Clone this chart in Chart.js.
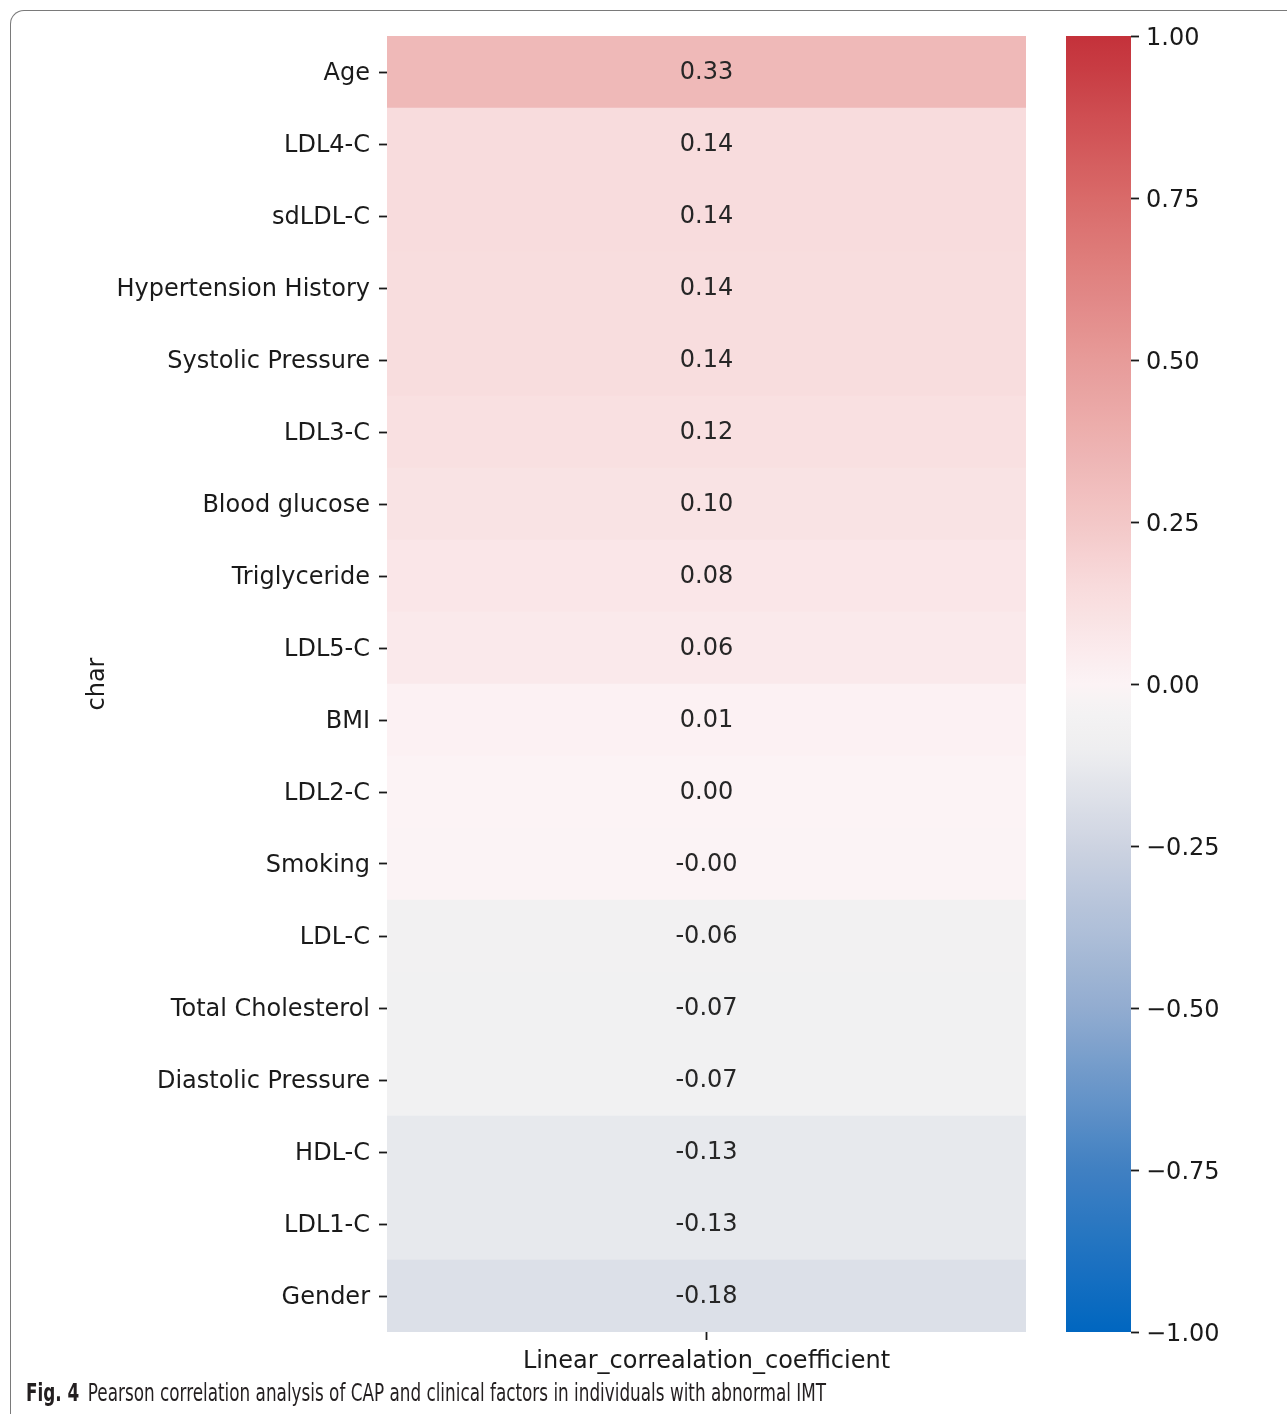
<!DOCTYPE html>
<html>
<head>
<meta charset="utf-8">
<script src="https://cdn.jsdelivr.net/npm/chart.js@4.4.1/dist/chart.umd.min.js"></script>
<style>
  html, body { margin: 0; padding: 0; background: #fff; }
  body { width: 1287px; height: 1414px; position: relative; overflow: hidden; }
  #frame {
    position: absolute; left: 10px; top: 10px; width: 1340px; height: 1460px;
    border-top: 1.5px solid #7a7a7a; border-left: 1.5px solid #7a7a7a;
    border-top-left-radius: 14px; box-sizing: border-box;
  }
  #heat { position: absolute; left: 0; top: 0; width: 1050px; height: 1414px; }
  #bar { position: absolute; left: 1040px; top: 0; width: 247px; height: 1414px; }
  #caption {
    position: absolute; left: 26px; top: 1379px;
    font-family: "Liberation Sans Narrow", "DejaVu Sans Condensed", "Open Sans", sans-serif;
    font-size: 24px; color: #231f20; white-space: nowrap; transform-origin: 0 0;
  }
  #caption b { margin-right: 11px; }
</style>
</head>
<body>
<div id="frame"></div>
<canvas id="heat" width="1050" height="1414"></canvas>
<canvas id="bar" width="247" height="1414"></canvas>
<div id="caption"><b>Fig. 4</b>Pearson correlation analysis of CAP and clinical factors in individuals with abnormal IMT</div>

<script>
// Clinical factors, sorted by correlation with CAP
const factors = [
  'Age', 'LDL4-C', 'sdLDL-C', 'Hypertension History', 'Systolic Pressure',
  'LDL3-C', 'Blood glucose', 'Triglyceride', 'LDL5-C', 'BMI', 'LDL2-C',
  'Smoking', 'LDL-C', 'Total Cholesterol', 'Diastolic Pressure', 'HDL-C',
  'LDL1-C', 'Gender'
];
// Pearson coefficients
const coefficients = [
  0.33, 0.145, 0.142, 0.139, 0.137,
  0.12, 0.10, 0.08, 0.06, 0.01, 0.002,
  -0.003, -0.06, -0.07, -0.07, -0.13,
  -0.13, -0.18
];
const columnName = 'Linear_correalation_coefficient';
const colorbarTicks = [-1, -0.75, -0.5, -0.25, 0, 0.25, 0.5, 0.75, 1];

// Diverging colour map (blue -> near white -> red)
const cmapStops = [
  [-1.00, [0, 102, 192]],
  [-0.75, [64, 128, 194]],
  [-0.50, [146, 172, 208]],
  [-0.25, [205, 211, 225]],
  [-0.10, [238, 238, 240]],
  [-0.04, [244, 243, 243]],
  [0.00, [252, 243, 245]],
  [0.15, [248, 219, 220]],
  [0.25, [243, 199, 199]],
  [0.50, [231, 155, 153]],
  [0.75, [217, 106, 105]],
  [1.00, [196, 49, 58]]
];
function colorFor(v) {
  v = Math.max(-1, Math.min(1, v));
  for (let i = 1; i < cmapStops.length; i++) {
    const [v1, c1] = cmapStops[i];
    if (v <= v1) {
      const [v0, c0] = cmapStops[i - 1];
      const t = (v - v0) / (v1 - v0);
      const c = c0.map((a, k) => Math.round(a + (c1[k] - a) * t));
      return `rgb(${c[0]},${c[1]},${c[2]})`;
    }
  }
  const c = cmapStops[cmapStops.length - 1][1];
  return `rgb(${c[0]},${c[1]},${c[2]})`;
}

const FONT = { family: '"DejaVu Sans", sans-serif', size: 24 };
const INK = '#1a1a1a';

// Writes each coefficient in the middle of its cell
const cellLabels = {
  id: 'cellLabels',
  afterDatasetsDraw(chart) {
    const { ctx } = chart;
    const meta = chart.getDatasetMeta(0);
    ctx.save();
    ctx.font = `${FONT.size}px ${FONT.family}`;
    ctx.fillStyle = '#262626';
    ctx.textAlign = 'center';
    ctx.textBaseline = 'middle';
    meta.data.forEach((bar, i) => {
      const { x, y, base } = bar.getProps(['x', 'y', 'base'], true);
      ctx.fillText(coefficients[i].toFixed(2), (x + base) / 2, y + 1);
    });
    ctx.restore();
  }
};

new Chart(document.getElementById('heat'), {
  type: 'bar',
  data: {
    labels: factors,
    datasets: [{
      data: factors.map(() => [0, 1]),
      backgroundColor: coefficients.map(colorFor),
      borderWidth: 0,
      barPercentage: 1,
      categoryPercentage: 1
    }]
  },
  options: {
    indexAxis: 'y',
    responsive: false,
    animation: false,
    devicePixelRatio: 1,
    layout: { padding: { left: 0, top: 36, right: 24, bottom: 22 } },
    plugins: { legend: { display: false }, tooltip: { enabled: false } },
    scales: {
      y: {
        type: 'category',
        grid: { display: true, drawOnChartArea: false, offset: false, tickLength: 8, tickWidth: 1.8, tickColor: INK },
        border: { display: false },
        ticks: { font: FONT, color: INK, padding: 9, autoSkip: false, labelOffset: 2 },
        title: { display: true, text: 'char', font: FONT, color: INK, padding: { top: 83, bottom: 0 } },
        afterFit: s => { s.width = 387; }
      },
      x: {
        type: 'linear',
        min: 0,
        max: 1,
        afterBuildTicks: s => { s.ticks = [{ value: 0.5 }]; },
        grid: { display: true, drawOnChartArea: false, tickLength: 8, tickWidth: 1.8, tickColor: INK },
        border: { display: false },
        ticks: { font: FONT, color: INK, padding: 7, callback: () => columnName, maxRotation: 0 },
        afterFit: s => { s.height = 60; }
      }
    }
  },
  plugins: [cellLabels]
});

// Colour bar
function barGradient(chart) {
  const area = chart.chartArea;
  if (!area) return colorFor(0);
  const g = chart.ctx.createLinearGradient(0, area.bottom, 0, area.top);
  const n = 80;
  for (let i = 0; i <= n; i++) {
    g.addColorStop(i / n, colorFor(-1 + 2 * i / n));
  }
  return g;
}

new Chart(document.getElementById('bar'), {
  type: 'bar',
  data: {
    labels: [''],
    datasets: [{
      data: [[-1, 1]],
      backgroundColor: ctx => barGradient(ctx.chart),
      borderWidth: 0,
      barPercentage: 1,
      categoryPercentage: 1
    }]
  },
  options: {
    responsive: false,
    animation: false,
    devicePixelRatio: 1,
    layout: { padding: { left: 26, top: 36, right: 0, bottom: 82 } },
    plugins: { legend: { display: false }, tooltip: { enabled: false } },
    scales: {
      x: { display: false },
      y: {
        position: 'right',
        min: -1,
        max: 1,
        afterBuildTicks: s => { s.ticks = colorbarTicks.map(v => ({ value: v })); },
        grid: { display: true, drawOnChartArea: false, tickLength: 8, tickWidth: 1.8, tickColor: INK },
        border: { display: false },
        ticks: {
          font: FONT, color: INK, padding: 7, labelOffset: 3,
          callback: v => (v < 0 ? '\u2212' : '') + Math.abs(v).toFixed(2)
        },
        afterFit: s => { s.width = 156; }
      }
    }
  }
});

// Fit the caption line to its column width
const cap = document.getElementById('caption');
const w = cap.getBoundingClientRect().width;
cap.style.transform = `scaleX(${800 / w})`;
</script>
</body>
</html>
